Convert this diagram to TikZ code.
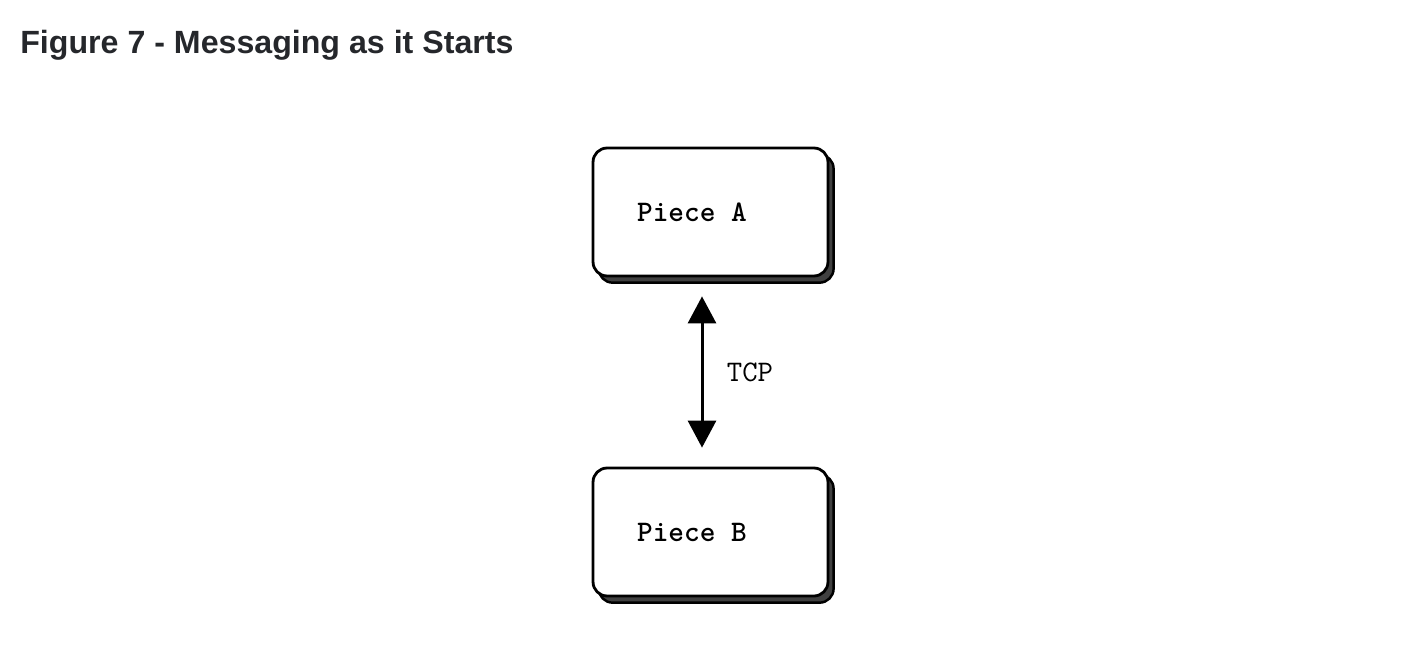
\documentclass[tikz,border=0pt]{standalone}
\usepackage{fontspec}
\setsansfont{Liberation Sans}
\usetikzlibrary{arrows.meta,shadows}
\definecolor{titlegray}{HTML}{25272B}
\begin{document}
\begin{tikzpicture}[
  x=0.02cm, y=-0.02cm,
  piece/.style={draw, line width=1.6pt, rounded corners=8pt, fill=white,
    minimum width=4.7cm, minimum height=2.56cm,
    copy shadow={shadow xshift=3.2pt, shadow yshift=-3.8pt, opacity=1, fill=black!75, draw=black, line width=1.4pt}},
  piecelabel/.style={font=\ttfamily\fontsize{17}{20}\selectfont, inner sep=0pt},
  link/.style={{Triangle[length=0.54cm,width=0.56cm]}-{Triangle[length=0.54cm,width=0.56cm]}, line width=1.7pt},
]
  \useasboundingbox (0,0) rectangle (1402,666);
  \node[anchor=base west, inner sep=0pt, text=titlegray, font=\sffamily\bfseries\fontsize{18.3}{22}\selectfont] (title) at (20,53) {Figure 7 - Messaging as it Starts};

  \node[piece] (pa) at (710.5,212) {};
  \node[piece] (pb) at (710.5,532) {};
  \node[piecelabel] (la) at (692,212) {\bfseries Piece A};
  \node[piecelabel] (lb) at (692,532) {\bfseries Piece B};

  \draw[link] ([xshift=-0.17cm,yshift=-0.38cm]pa.south) -- ([xshift=-0.17cm,yshift=0.38cm]pb.north);
  \node[piecelabel] (tcp) at (750,372) {TCP};
\end{tikzpicture}
\end{document}
